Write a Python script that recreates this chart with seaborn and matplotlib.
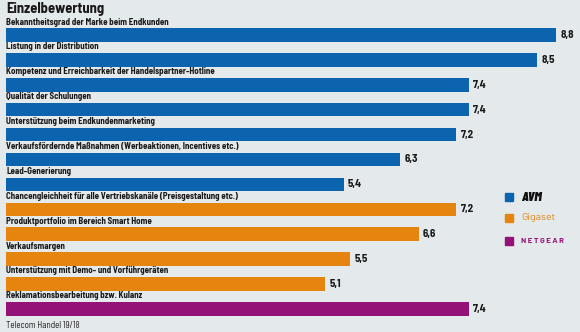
import matplotlib
matplotlib.use("Agg")
import matplotlib.pyplot as plt
import seaborn as sns
import pandas as pd

kriterien = [
    "Bekanntheitsgrad der Marke beim Endkunden",
    "Listung in der Distribution",
    "Kompetenz und Erreichbarkeit der Handelspartner-Hotline",
    "Qualität der Schulungen",
    "Unterstützung beim Endkundenmarketing",
    "Verkaufsfördernde Maßnahmen (Werbeaktionen, Incentives etc.)",
    "Lead-Generierung",
    "Chancengleichheit für alle Vertriebskanäle (Preisgestaltung etc.)",
    "Produktportfolio im Bereich Smart Home",
    "Verkaufsmargen",
    "Unterstützung mit Demo- und Vorführgeräten",
    "Reklamationsbearbeitung bzw. Kulanz",
]
noten = [8.8, 8.5, 7.4, 7.4, 7.2, 6.3, 5.4, 7.2, 6.6, 5.5, 5.1, 7.4]
hersteller = ["AVM"] * 7 + ["Gigaset"] * 4 + ["NETGEAR"]
marken = ["AVM", "Gigaset", "NETGEAR"]
farben = ["#0b64ad", "#e5850f", "#941177"]

df = pd.DataFrame({"Kriterium": kriterien, "Note": noten, "Hersteller": hersteller})

bg = "#e4e9eb"
txt = "#1a1a1a"
sns.set_theme(style="white")
plt.rcParams["font.family"] = ["Barlow Semi Condensed", "DejaVu Sans"]

fig = plt.figure(figsize=(5.8, 3.32), dpi=100, facecolor=bg)
ax = fig.add_axes([0, 0, 1, 1])
ax.set_facecolor(bg)

sns.barplot(data=df, y="Kriterium", x="Note", hue="Hersteller",
            hue_order=marken, palette=dict(zip(marken, farben)),
            orient="h", dodge=False, width=0.54, saturation=1,
            linewidth=0, legend=False, ax=ax)

ax.set_xlim(-0.096, 9.184)
ax.set_ylim(11.93, -1.406)
ax.set_axis_off()

for i, (k, v) in enumerate(zip(kriterien, noten)):
    ax.text(0, i - 0.34, k, fontsize=6.4, fontweight="bold", color=txt,
            ha="left", va="bottom")
    ax.text(v + 0.07, i, f"{v:.1f}".replace(".", ","), fontsize=8,
            fontweight="bold", color=txt, ha="left", va="center")

fig.text(6 / 580, 1 - 2 / 332, "Einzelbewertung", fontsize=10.5, fontweight="bold",
         color=txt, ha="left", va="top")
fig.text(6 / 580, 1 - 326 / 332, "Telecom Handel 19/18", fontsize=6.4,
         color=txt, ha="left", va="center")

# Legende rechts
leg_y = [197, 218, 241]
for (m, c, y) in zip(marken, farben, leg_y):
    fig.patches.append(plt.Rectangle((505 / 580, 1 - (y + 4) / 332), 8 / 580, 8 / 332,
                                     transform=fig.transFigure, color=c, figure=fig))
fig.text(521 / 580, 1 - 197 / 332, "AVM", fontsize=9.5, fontweight="black",
         style="italic", color="#111111", va="center", ha="left",
         family=["Barlow Condensed", "DejaVu Sans"])
fig.text(521 / 580, 1 - 218 / 332, "Gigaset", fontsize=7.5, color="#e5850f",
         va="center", ha="left", family=["Barlow", "DejaVu Sans"])
fig.text(521 / 580, 1 - 241 / 332, "N E T G E A R", fontsize=5.6, fontweight="bold",
         color="#941177", va="center", ha="left", family=["Barlow", "DejaVu Sans"])

fig.savefig("out.png", dpi=100, facecolor=bg)
